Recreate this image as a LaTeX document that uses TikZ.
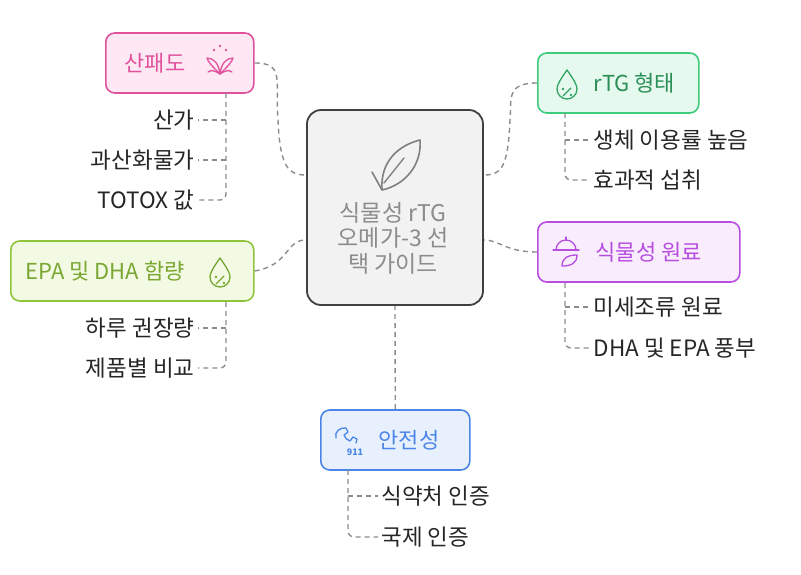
\documentclass[tikz,border=0pt]{standalone}
\usepackage{fontspec}
\setmainfont{Noto Sans CJK KR}
\begin{document}
\begin{tikzpicture}[x=1pt,y=-1pt,
  box/.style={draw,line width=1.6pt,rounded corners=9pt,minimum height=60pt,anchor=west},
  lab/.style={font=\fontsize{22}{26}\selectfont,anchor=west},
  kid/.style={font=\fontsize{22.5}{26}\selectfont,text=black!85},
  con/.style={draw=black!45,line width=1.4pt,dash pattern=on 5pt off 4pt},
  ic/.style={line width=1.3pt,line cap=round,line join=round}]
\useasboundingbox (0,0) rectangle (801,575);
\definecolor{pk}{HTML}{E0529C}\definecolor{pkf}{HTML}{FDE8F3}
\definecolor{gr}{HTML}{3DCC7C}\definecolor{grf}{HTML}{E6F9EF}
\definecolor{ol}{HTML}{8FC43B}\definecolor{olf}{HTML}{F3FAE3}
\definecolor{pu}{HTML}{B84EE0}\definecolor{puf}{HTML}{F8ECFD}
\definecolor{bl}{HTML}{4A86E8}\definecolor{blf}{HTML}{E8F0FD}
% center
\node[draw=black!75,fill=black!5,line width=1.8pt,rounded corners=14pt,minimum width=176pt,minimum height=195pt] (c) at (395,207.5) {};
\node[text=black!45,align=center,font=\fontsize{23}{25.5}\selectfont] (ct) at (393,238) {식물성 rTG\\오메가-3 선\\택 가이드};
\draw[ic,black!50,line width=1.6pt] (372,172)--(382,190) .. controls (380,160) and (400,145) .. (420,140) .. controls (422,165) and (405,185) .. (382,190);
\draw[ic,black!50,line width=1.4pt] (384,183)--(404,158);
% boxes
\node[box,draw=pk,fill=pkf,minimum width=148pt] (a) at (105,63) {};
\node[lab,text=pk] (at) at (121,63) {산패도};
\node[box,draw=gr,fill=grf,minimum width=161pt] (b) at (537,83) {};
\node[lab,text=gr!70!black] (bt) at (590,83) {rTG 형태};
\node[box,draw=ol,fill=olf,minimum width=243pt] (d) at (10,271) {};
\node[lab,text=ol!85!black] (dt) at (22,271) {EPA 및 DHA 함량};
\node[box,draw=pu,fill=puf,minimum width=202pt] (e) at (537,252) {};
\node[lab,text=pu] (et) at (592,252) {식물성 원료};
\node[box,draw=bl,fill=blf,minimum width=149pt] (f) at (320,440) {};
\node[lab,text=bl] (ft) at (375,440) {안전성};
% icons
\begin{scope}[ic,pk]
\draw (220,74) .. controls (212,66) and (208,62) .. (207,58) .. controls (214,58) and (219,64) .. (220,74) .. controls (221,64) and (226,58) .. (233,58) .. controls (232,62) and (228,66) .. (220,74);
\draw (220,74) .. controls (214,70) and (211,70) .. (208,72); \draw (220,74) .. controls (226,70) and (229,70) .. (232,72);
\fill (214,50) circle (1.3) (220,46) circle (1.3) (226,50) circle (1.3);
\end{scope}
\begin{scope}[ic,gr!80!black]
\draw (567,70) .. controls (560,80) and (557,85) .. (557,89) arc (180:0:10) .. controls (577,85) and (574,80) .. (567,70);
\draw (563,96)--(571,88); \fill (563,89) circle (1.3) (571,95) circle (1.3);
\end{scope}
\begin{scope}[ic,ol!85!black]
\draw (220,258) .. controls (213,268) and (210,273) .. (210,277) arc (180:0:10) .. controls (230,273) and (227,268) .. (220,258);
\draw (216,284)--(224,276); \fill (216,277) circle (1.3) (224,283) circle (1.3);
\end{scope}
\begin{scope}[ic,pu]
\draw (556,250) arc (180:360:10); \draw (553,250)--(579,250); \draw (566,240)--(566,237);
\draw (562,266) .. controls (562,258) and (568,255) .. (577,255) .. controls (577,264) and (570,266) .. (562,266);
\end{scope}
\begin{scope}[ic,bl]
\draw (336,438) .. controls (334,432) and (340,427) .. (346,428) -- (348,432) -- (344,435) .. controls (345,438) and (347,440) .. (350,441) -- (353,437) -- (357,439) -- (356,443);
\node[font=\bfseries\fontsize{9}{9}\selectfont,bl] at (355,452) {911};
\end{scope}
% center connectors
\draw[con] (a.east) .. controls (285,63) and (275,80) .. (278,120) .. controls (280,170) and (290,175) .. (c.west |- 0,175);
\draw[con] (b.west) .. controls (505,83) and (512,100) .. (510,120) .. controls (508,170) and (500,175) .. (c.east |- 0,175);
\draw[con] (d.east) .. controls (290,265) and (285,240) .. (c.west |- 0,240);
\draw[con] (e.west) .. controls (505,252) and (500,240) .. (c.east |- 0,240);
\draw[con] (f.north) -- (c.south);
% children
\node[kid,anchor=east] (a1) at (198,120) {산가};
\node[kid,anchor=east] (a2) at (198,160) {과산화물가};
\node[kid,anchor=east] (a3) at (198,200) {TOTOX 값};
\draw[con,rounded corners=6pt] (226,93)--(226,200)--(a3.east);
\draw[con] (226,120)--(a1.east) (226,160)--(a2.east);
\node[kid,anchor=west] (b1) at (590,140) {생체 이용률 높음};
\node[kid,anchor=west] (b2) at (590,180) {효과적 섭취};
\draw[con,rounded corners=6pt] (565,113)--(565,180)--(b2.west);
\draw[con] (565,140)--(b1.west);
\node[kid,anchor=east] (d1) at (198,328) {하루 권장량};
\node[kid,anchor=east] (d2) at (198,368) {제품별 비교};
\draw[con,rounded corners=6pt] (226,302)--(226,368)--(d2.east);
\draw[con] (226,328)--(d1.east);
\node[kid,anchor=west] (e1) at (590,307) {미세조류 원료};
\node[kid,anchor=west] (e2) at (590,348) {DHA 및 EPA 풍부};
\draw[con,rounded corners=6pt] (565,283)--(565,348)--(e2.west);
\draw[con] (565,307)--(e1.west);
\node[kid,anchor=west] (f1) at (378,496) {식약처 인증};
\node[kid,anchor=west] (f2) at (378,537) {국제 인증};
\draw[con,rounded corners=6pt] (348,470)--(348,537)--(f2.west);
\draw[con] (348,496)--(f1.west);
\end{tikzpicture}
\end{document}
